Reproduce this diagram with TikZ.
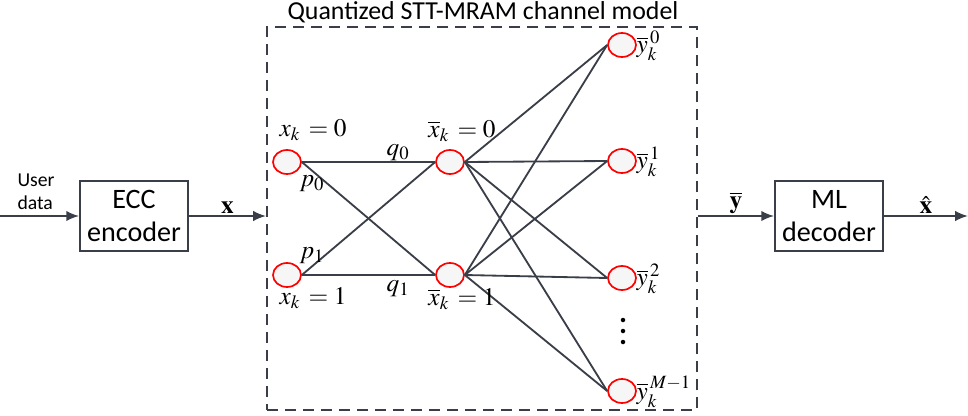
\documentclass[tikz,border=0pt]{standalone}
\usepackage{mathptmx}
\usepackage[no-math]{fontspec}
\setsansfont{Carlito}
\usetikzlibrary{arrows.meta, positioning, shapes.geometric}
\definecolor{linegray}{RGB}{58,62,72}

\begin{document}
\begin{tikzpicture}[
  x=0.025cm, y=-0.025cm,
  box/.style={rectangle, draw=linegray, line width=1.3pt,
              minimum width=2.7cm, minimum height=1.75cm, align=center,
              inner sep=2pt, font=\sffamily\fontsize{20}{23}\selectfont},
  cell/.style={ellipse, draw=red, line width=1.2pt, fill=gray!7,
               minimum width=0.7cm, minimum height=0.6cm, inner sep=0pt},
  chanbox/.style={rectangle, draw=linegray, line width=1.3pt,
                  dash pattern=on 0.28cm off 0.17cm,
                  minimum width=10.75cm, minimum height=9.575cm},
  link/.style={draw=linegray, line width=1.3pt},
  arrow/.style={-{Latex[length=3.2mm,width=2.6mm]}, line width=1.3pt, draw=linegray, fill=linegray},
  lbl/.style={font=\fontsize{18}{21}\selectfont, inner sep=1pt}
]
\useasboundingbox (0,0) rectangle (968,415);

\node[chanbox] (chan) at (482,218.5) {};
\node[font=\sffamily\fontsize{18.4}{21}\selectfont] (title) at (483,12) {Quantized STT-MRAM channel model};

\node[box] (ecc) at (134,216) {ECC\\encoder};
\node[box] (ml) at (829,216) {ML\\decoder};

% trellis states
\node[cell] (x0) at (287,162) {};
\node[cell] (x1) at (287,275) {};
\node[cell] (b0) at (450,162) {};
\node[cell] (b1) at (450,275) {};
\node[cell] (y0) at (622,45) {};
\node[cell] (y1) at (622,161) {};
\node[cell] (y2) at (622,278) {};
\node[cell] (y3) at (622,391) {};

\foreach \a in {x0,x1}
  \foreach \b in {b0,b1}
    \draw[link] (\a.east) -- (\b.west);
\foreach \a in {b0,b1}
  \foreach \b in {y0,y1,y2,y3}
    \draw[link] (\a.east) -- (\b.west);

\foreach \yy in {320,331,342}
  \fill (623,\yy) circle (1.6pt);

% labels
\node[lbl] (lx0) at (313,130) {$x_k\,=0$};
\node[lbl] (lx1) at (313,298) {$x_k\,=1$};
\node[lbl] (lb0) at (462,131) {$\overline{x}_k\,=0$};
\node[lbl] (lb1) at (462,299) {$\overline{x}_k\,=1$};
\node[lbl] (lq0) at (398,153) {$q_0$};
\node[lbl] (lq1) at (398,289) {$q_1$};
\node[lbl] (lp0) at (312,184) {$p_0$};
\node[lbl] (lp1) at (312,256) {$p_1$};
\node[lbl, anchor=west] (ly0) at (635,46) {$\overline{y}_k^{\,0}$};
\node[lbl, anchor=west] (ly1) at (635,162) {$\overline{y}_k^{\,1}$};
\node[lbl, anchor=west] (ly2) at (635,279) {$\overline{y}_k^{\,2}$};
\node[lbl, anchor=west] (ly3) at (635,392) {$\overline{y}_k^{\,M-1}$};

% signal path
\coordinate (in) at (0,216);
\coordinate (out) at (968,216);
\node[font=\sffamily\fontsize{14}{16}\selectfont, align=left] (udata) at (36,192) {User\\data};
\draw[arrow] (in) -- (ecc);
\draw[arrow] (ecc) -- (ecc -| chan.west) node[midway, above, lbl] {$\mathbf{x}$};
\draw[arrow] (chan.east |- ml) -- (ml) node[midway, above, lbl] {$\overline{\mathbf{y}}$};
\draw[arrow] (ml) -- (out) node[midway, above, lbl] {$\hat{\mathbf{x}}$};
\end{tikzpicture}
\end{document}
